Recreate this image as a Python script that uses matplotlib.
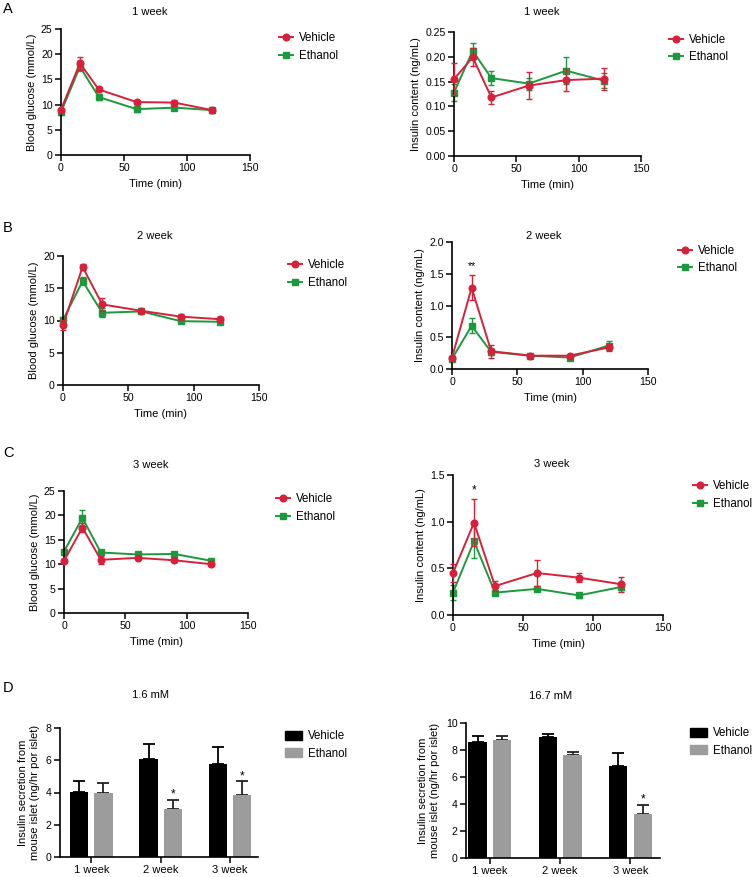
import matplotlib
matplotlib.use("Agg")
import matplotlib.pyplot as plt
from matplotlib.lines import Line2D
from matplotlib.patches import Patch
import numpy as np

plt.rcParams['font.family'] = ['Liberation Sans', 'DejaVu Sans']

time_min = [0, 15, 30, 60, 90, 120]

# Panel A: 1 week
glu1_veh = [9.0, 18.2, 13.0, 10.5, 10.4, 8.9]
glu1_veh_err = [0.4, 1.3, 0.3, 0.3, 0.5, 0.3]
glu1_eth = [8.5, 17.5, 11.5, 9.1, 9.4, 8.9]
glu1_eth_err = [0.5, 0.8, 0.6, 0.6, 0.4, 0.5]
ins1_veh = [0.155, 0.199, 0.118, 0.142, 0.153, 0.156]
ins1_veh_err = [0.032, 0.018, 0.013, 0.027, 0.022, 0.022]
ins1_eth = [0.128, 0.212, 0.157, 0.146, 0.172, 0.152]
ins1_eth_err = [0.018, 0.016, 0.014, 0.012, 0.027, 0.015]

# Panel B: 2 week
glu2_veh = [9.3, 18.3, 12.5, 11.5, 10.6, 10.2]
glu2_veh_err = [0.8, 0.5, 1.0, 0.3, 0.4, 0.4]
glu2_eth = [10.1, 16.1, 11.2, 11.4, 9.9, 9.8]
glu2_eth_err = [0.4, 0.6, 0.7, 0.3, 0.3, 0.3]
ins2_veh = [0.18, 1.28, 0.28, 0.21, 0.21, 0.34]
ins2_veh_err = [0.03, 0.20, 0.10, 0.03, 0.03, 0.05]
ins2_eth = [0.16, 0.68, 0.27, 0.21, 0.18, 0.37]
ins2_eth_err = [0.03, 0.12, 0.05, 0.02, 0.03, 0.07]

# Panel C: 3 week
glu3_veh = [10.7, 17.5, 10.9, 11.3, 10.8, 10.0]
glu3_veh_err = [0.3, 1.0, 0.8, 0.3, 0.3, 0.3]
glu3_eth = [12.6, 19.5, 12.4, 12.0, 12.1, 10.7]
glu3_eth_err = [0.4, 1.7, 0.5, 0.4, 0.4, 0.3]
ins3_veh = [0.45, 0.99, 0.31, 0.45, 0.40, 0.33]
ins3_veh_err = [0.10, 0.25, 0.05, 0.14, 0.05, 0.08]
ins3_eth = [0.24, 0.79, 0.24, 0.28, 0.21, 0.30]
ins3_eth_err = [0.08, 0.18, 0.02, 0.02, 0.03, 0.03]

# Panel D: bars
weeks = ['1 week', '2 week', '3 week']
low_veh = [4.03, 6.05, 5.76]
low_veh_err = [0.70, 0.93, 1.07]
low_eth = [4.00, 3.00, 3.86]
low_eth_err = [0.58, 0.54, 0.83]
high_veh = [8.56, 8.96, 6.80]
high_veh_err = [0.50, 0.25, 0.97]
high_eth = [8.71, 7.62, 3.25]
high_eth_err = [0.32, 0.25, 0.67]

RED = '#d7213b'
GREEN = '#1b9a3b'
GRAY = '#9c9c9c'
FS = 7.6

W, H = 755, 877
fig = plt.figure(figsize=(W / 100, H / 100), dpi=100)


def px_axes(x0, x1, y0, y1):
    return fig.add_axes([x0 / W, 1 - y1 / H, (x1 - x0) / W, (y1 - y0) / H])


def style(ax):
    for s in ['top', 'right']:
        ax.spines[s].set_visible(False)
    for s in ['left', 'bottom']:
        ax.spines[s].set_linewidth(1.2)
    ax.tick_params(direction='out', length=4, width=1.1, labelsize=FS, pad=2)


def legend(handles, px, py, hl=1.25, hh=0.7):
    fig.legend(handles=handles, labels=['Vehicle', 'Ethanol'], loc='center left',
               bbox_to_anchor=(px / W, 1 - py / H), frameon=False, fontsize=FS + 0.7,
               borderpad=0, borderaxespad=0, handlelength=hl, handleheight=hh,
               handletextpad=0.5, labelspacing=0.45)


def line_panel(box, veh, veh_err, eth, eth_err, ylim, yticks, ylabel, title, title_y,
               leg_xy, yfmt):
    ax = px_axes(*box)
    style(ax)
    ax.errorbar(time_min, veh, yerr=veh_err, color=RED, marker='o', ms=4.8,
                lw=1.4, capsize=2.5, elinewidth=1.0, capthick=1.0, zorder=3,
                clip_on=False)
    ax.errorbar(time_min, eth, yerr=eth_err, color=GREEN, marker='s', ms=4.8,
                lw=1.4, capsize=2.5, elinewidth=1.0, capthick=1.0, zorder=2,
                clip_on=False)
    ax.set_xlim(0, 150)
    ax.set_xticks([0, 50, 100, 150])
    ax.set_ylim(*ylim)
    ax.set_yticks(yticks)
    ax.set_yticklabels([yfmt.format(v) for v in yticks])
    ax.set_xlabel('Time (min)', fontsize=FS + 0.4, labelpad=4)
    ax.set_ylabel(ylabel, fontsize=FS + 0.4, labelpad=3)
    fig.text((box[0] + (box[1] - box[0]) * 0.47) / W, 1 - title_y / H, title,
             ha='center', va='center', fontsize=FS + 0.4)
    h1 = Line2D([], [], color=RED, marker='o', ms=4.8, lw=1.4)
    h2 = Line2D([], [], color=GREEN, marker='s', ms=4.8, lw=1.4)
    legend([h1, h2], *leg_xy)
    return ax


# Row A
line_panel((61, 250, 29, 155), glu1_veh, glu1_veh_err, glu1_eth, glu1_eth_err,
           (0, 25), [0, 5, 10, 15, 20, 25], 'Blood glucose (mmol/L)', '1 week', 12,
           (279, 47), '{:g}')
line_panel((454, 641, 32, 156), ins1_veh, ins1_veh_err, ins1_eth, ins1_eth_err,
           (0, 0.25), [0, 0.05, 0.10, 0.15, 0.20, 0.25], 'Insulin content (ng/mL)',
           '1 week', 12, (669, 48.5), '{:.2f}')

# Row B
line_panel((63, 259, 256, 385), glu2_veh, glu2_veh_err, glu2_eth, glu2_eth_err,
           (0, 20), [0, 5, 10, 15, 20], 'Blood glucose (mmol/L)', '2 week', 236,
           (288, 274), '{:g}')
axB2 = line_panel((452, 648, 242, 369), ins2_veh, ins2_veh_err, ins2_eth, ins2_eth_err,
                  (0, 2.0), [0, 0.5, 1.0, 1.5, 2.0], 'Insulin content (ng/mL)',
                  '2 week', 236, (678, 259.5), '{:.1f}')
axB2.text(15, 1.62, '**', ha='center', va='center', fontsize=FS)

# Row C
line_panel((64, 248, 491, 613), glu3_veh, glu3_veh_err, glu3_eth, glu3_eth_err,
           (0, 25), [0, 5, 10, 15, 20, 25], 'Blood glucose (mmol/L)', '3 week', 465,
           (276, 508), '{:g}')
axC2 = line_panel((453, 663, 475, 615), ins3_veh, ins3_veh_err, ins3_eth, ins3_eth_err,
                  (0, 1.5), [0, 0.5, 1.0, 1.5], 'Insulin content (ng/mL)',
                  '3 week', 464, (693, 495), '{:.1f}')
axC2.text(15, 1.33, '*', ha='center', va='center', fontsize=FS + 1)


# Row D bars
def bar_panel(box, veh, veh_err, eth, eth_err, ylim, yticks, xlim, title, title_x,
              title_y, leg_xy, stars):
    ax = px_axes(*box)
    style(ax)
    x = np.arange(len(weeks))
    off = 0.176
    bw = 0.26
    ax.bar(x - off, veh, bw, color='black', zorder=2)
    ax.bar(x + off, eth, bw, color=GRAY, zorder=2)
    ax.errorbar(x - off, veh, yerr=[np.zeros(3), veh_err], fmt='none', ecolor='black',
                capsize=4, elinewidth=1.3, capthick=1.3, zorder=1)
    ax.errorbar(x + off, eth, yerr=[np.zeros(3), eth_err], fmt='none', ecolor='#222222',
                capsize=4, elinewidth=1.3, capthick=1.3, zorder=1)
    for i in stars:
        ax.text(x[i] + off, eth[i] + eth_err[i] + (ylim[1] * 0.04), '*', ha='center',
                va='center', fontsize=FS + 1)
    ax.set_xlim(*xlim)
    ax.set_xticks(x)
    ax.set_xticklabels(weeks, fontsize=FS + 0.4)
    ax.set_ylim(*ylim)
    ax.set_yticks(yticks)
    ax.set_ylabel('Insulin secretion from\nmouse islet (ng/hr por islet)',
                  fontsize=FS + 0.4, labelpad=4, linespacing=1.3)
    fig.text(title_x / W, 1 - title_y / H, title, ha='center', va='center',
             fontsize=FS + 0.4)
    legend([Patch(color='black'), Patch(color=GRAY)], *leg_xy, hl=1.5, hh=0.9)
    return ax


bar_panel((60, 258, 728, 857), low_veh, low_veh_err, low_eth, low_eth_err,
          (0, 8), [0, 2, 4, 6, 8], (-0.45, 2.4), '1.6 mM', 150, 695, (285, 745), [1, 2])
bar_panel((466, 660, 723, 858), high_veh, high_veh_err, high_eth, high_eth_err,
          (0, 10), [0, 2, 4, 6, 8, 10], (-0.34, 2.42), '16.7 mM', 551, 696, (690, 742), [2])

# Panel letters
for letter, y in [('A', 9), ('B', 228), ('C', 453), ('D', 688)]:
    fig.text(3 / W, 1 - y / H, letter, ha='left', va='center', fontsize=10.5)

fig.savefig('out.png', dpi=100, facecolor='white')
